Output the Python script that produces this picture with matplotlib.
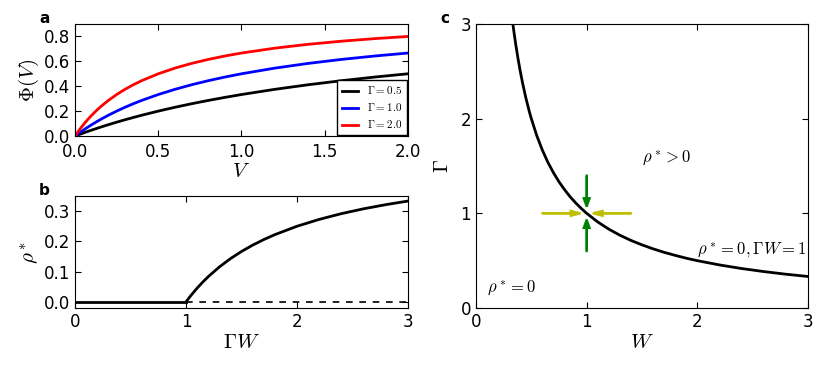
import matplotlib
matplotlib.use('Agg')
import matplotlib.pyplot as plt

plt.rcParams['mathtext.fontset'] = 'cm'
plt.rcParams['font.family'] = 'DejaVu Sans'
plt.rcParams['xtick.direction'] = 'in'
plt.rcParams['ytick.direction'] = 'in'
plt.rcParams['xtick.top'] = True
plt.rcParams['ytick.right'] = True
plt.rcParams['xtick.major.size'] = 4
plt.rcParams['ytick.major.size'] = 4

# --- panel a: Phi(V) for three Gamma values ---
V = [0, 0.01, 0.02, 0.04, 0.06, 0.08, 0.1, 0.13, 0.16, 0.2, 0.25, 0.3, 0.35,
     0.4, 0.5, 0.6, 0.7, 0.8, 0.9, 1.0, 1.2, 1.4, 1.6, 1.8, 2.0]
phi_05 = [0, 0.005, 0.0099, 0.0196, 0.0291, 0.0385, 0.0476, 0.0610, 0.0741,
          0.0909, 0.1111, 0.1304, 0.1489, 0.1667, 0.2, 0.2308, 0.2593, 0.2857,
          0.3103, 0.3333, 0.375, 0.4118, 0.4444, 0.4737, 0.5]
phi_10 = [0, 0.0099, 0.0196, 0.0385, 0.0566, 0.0741, 0.0909, 0.1150, 0.1379,
          0.1667, 0.2, 0.2308, 0.2593, 0.2857, 0.3333, 0.375, 0.4118, 0.4444,
          0.4737, 0.5, 0.5455, 0.5833, 0.6154, 0.6429, 0.6667]
phi_20 = [0, 0.0196, 0.0385, 0.0741, 0.1071, 0.1379, 0.1667, 0.2063, 0.2424,
          0.2857, 0.3333, 0.375, 0.4118, 0.4444, 0.5, 0.5455, 0.5833, 0.6154,
          0.6429, 0.6667, 0.7059, 0.7368, 0.7619, 0.7826, 0.8]

# --- panel b: rho* vs Gamma W ---
gw_zero = [0, 1.0]
rho_zero = [0, 0]
gw_dash = [1.0, 3.0]
rho_dash = [0, 0]
gw = [1.0, 1.02, 1.05, 1.1, 1.15, 1.2, 1.3, 1.4, 1.5, 1.6, 1.7, 1.8, 2.0,
      2.2, 2.4, 2.6, 2.8, 3.0]
rho = [0, 0.0098, 0.0238, 0.0455, 0.0652, 0.0833, 0.1154, 0.1429, 0.1667,
       0.1875, 0.2059, 0.2222, 0.25, 0.2727, 0.2917, 0.3077, 0.3214, 0.3333]

# --- panel c: phase boundary Gamma W = 1 ---
W = [0.333, 0.34, 0.35, 0.36, 0.38, 0.40, 0.42, 0.45, 0.48, 0.5, 0.55, 0.6,
     0.65, 0.7, 0.75, 0.8, 0.85, 0.9, 0.95, 1.0, 1.1, 1.2, 1.3, 1.4, 1.5,
     1.6, 1.7, 1.8, 1.9, 2.0, 2.2, 2.4, 2.6, 2.8, 3.0]
G = [3.0, 2.941, 2.857, 2.778, 2.632, 2.5, 2.381, 2.222, 2.083, 2.0, 1.818,
     1.667, 1.538, 1.429, 1.333, 1.25, 1.176, 1.111, 1.053, 1.0, 0.909, 0.833,
     0.769, 0.714, 0.667, 0.625, 0.588, 0.556, 0.526, 0.5, 0.455, 0.417,
     0.385, 0.357, 0.333]

# arrows converging on the critical point (start, end)
yellow_arrows = [((0.6, 1.0), (0.945, 1.0)), ((1.4, 1.0), (1.055, 1.0))]
green_arrows = [((1.0, 1.4), (1.0, 1.07)), ((1.0, 0.6), (1.0, 0.935))]

fig = plt.figure(figsize=(8.3, 3.69), dpi=100)
ax_a = fig.add_axes([0.0904, 0.6314, 0.401, 0.3035])
ax_b = fig.add_axes([0.0904, 0.1653, 0.401, 0.3035])
ax_c = fig.add_axes([0.5735, 0.1653, 0.400, 0.7696])

fs = 12
lab = 15

ax_a.plot(V, phi_05, color='k', lw=2, label=r'$\Gamma=0.5$')
ax_a.plot(V, phi_10, color='b', lw=2, label=r'$\Gamma=1.0$')
ax_a.plot(V, phi_20, color='r', lw=2, label=r'$\Gamma=2.0$')
ax_a.set_xlim(0, 2)
ax_a.set_ylim(0, 0.9)
ax_a.set_yticks([0, 0.2, 0.4, 0.6, 0.8])
ax_a.set_xticks([0, 0.5, 1.0, 1.5, 2.0])
ax_a.set_xlabel(r'$V$', fontsize=lab, labelpad=0)
ax_a.set_ylabel(r'$\Phi(V)$', fontsize=lab, labelpad=2)
leg = ax_a.legend(loc='lower right', fontsize=8, fancybox=False,
                  edgecolor='k', framealpha=1, handlelength=1.5,
                  borderaxespad=0.1, labelspacing=0.45)
leg.get_frame().set_linewidth(1.0)

ax_b.plot(gw_dash, rho_dash, color='k', lw=1.2, dashes=(4, 4))
ax_b.plot(gw_zero, rho_zero, color='k', lw=2)
ax_b.plot(gw, rho, color='k', lw=2)
ax_b.set_xlim(0, 3)
ax_b.set_ylim(-0.02, 0.35)
ax_b.set_xticks([0, 1, 2, 3])
ax_b.set_yticks([0, 0.1, 0.2, 0.3])
ax_b.set_xlabel(r'$\Gamma W$', fontsize=lab, labelpad=1)
ax_b.set_ylabel(r'$\rho^*$', fontsize=lab, labelpad=2)

ax_c.plot(W, G, color='k', lw=2)
ax_c.set_xlim(0, 3)
ax_c.set_ylim(0, 3)
ax_c.set_xticks([0, 1, 2, 3])
ax_c.set_yticks([0, 1, 2, 3])
ax_c.set_xlabel(r'$W$', fontsize=lab, labelpad=1)
ax_c.set_ylabel(r'$\Gamma$', fontsize=lab, labelpad=6)
arrow_kw = dict(head_width=0.055, head_length=0.09, length_includes_head=True,
                lw=1.5)
for (x0, y0), (x1, y1) in yellow_arrows:
    ax_c.arrow(x0, y0, x1 - x0, y1 - y0, color='y', **arrow_kw)
for (x0, y0), (x1, y1) in green_arrows:
    ax_c.arrow(x0, y0, x1 - x0, y1 - y0, color='g', **arrow_kw)
ax_c.text(1.5, 1.54, r'$\rho^* > 0$', fontsize=12)
ax_c.text(2.0, 0.57, r'$\rho^* = 0, \Gamma W = 1$', fontsize=12)
ax_c.text(0.1, 0.16, r'$\rho^* = 0$', fontsize=12)

for ax in (ax_a, ax_b, ax_c):
    ax.tick_params(labelsize=fs)
ax_a.tick_params(axis='x', pad=5)

fig.text(0.047, 0.938, 'a', fontsize=11, fontweight='bold')
fig.text(0.047, 0.472, 'b', fontsize=11, fontweight='bold')
fig.text(0.530, 0.938, 'c', fontsize=11, fontweight='bold')

fig.savefig('out.png', dpi=100)
